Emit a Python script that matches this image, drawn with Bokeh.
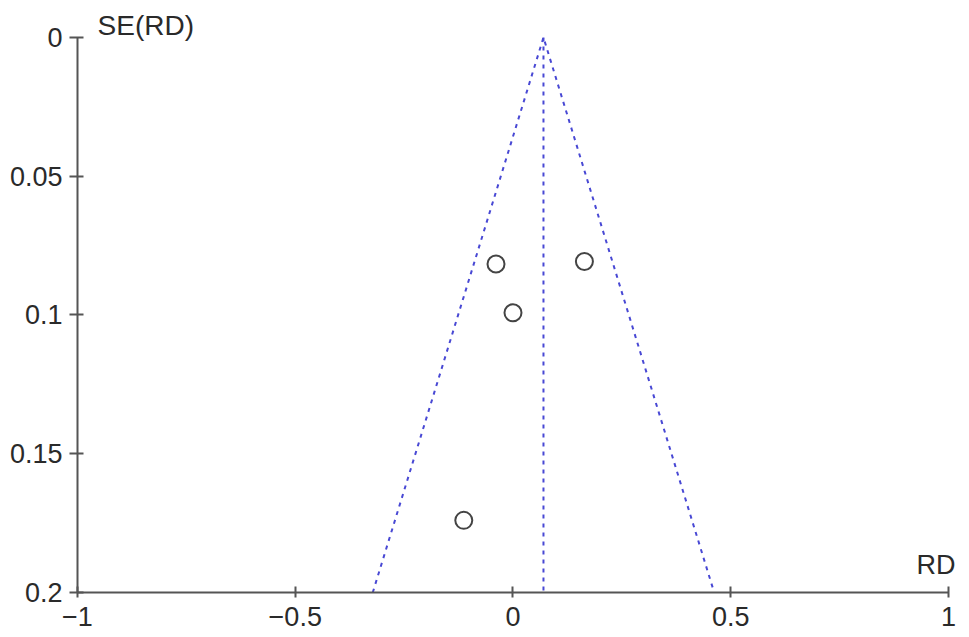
from bokeh.plotting import figure
from bokeh.models import Range1d, FixedTicker, Label, ColumnDataSource
from bokeh.embed import file_html
from bokeh.resources import INLINE

# Study estimates (risk difference) and their standard errors
rd = [-0.039, 0.164, 0.0, -0.113]
se = [0.0816, 0.0807, 0.0992, 0.174]

# Pooled estimate and pseudo 95% confidence funnel
pooled_rd = 0.07
funnel_x = [-0.322, 0.07, 0.462]
funnel_y = [0.2, 0.0, 0.2]
center_x = [0.07, 0.07]
center_y = [0.0, 0.2]

x_ticks = [-1, -0.5, 0, 0.5, 1]
x_tick_labels = ["\u22121", "\u22120.5", "0", "0.5", "1"]
y_ticks = [0, 0.05, 0.1, 0.15, 0.2]
y_tick_labels = ["0", "0.05", "0.1", "0.15", "0.2"]

FONT = "Liberation Sans"
AX = "#555555"
TXT = "#2a2a2a"

p = figure(frame_width=883, frame_height=584, output_backend="svg",
           toolbar_location=None,
           x_range=Range1d(-1, 1.0276), y_range=Range1d(0.2, -0.01045),
           min_border_left=77, min_border_top=8, min_border_right=9,
           min_border_bottom=44)
p.outline_line_color = None
p.xgrid.visible = False
p.ygrid.visible = False
p.background_fill_color = "white"
p.border_fill_color = "white"

for ax in (p.xaxis[0], p.yaxis[0]):
    ax.axis_line_color = AX
    ax.axis_line_width = 2
    ax.major_tick_line_color = AX
    ax.major_tick_line_width = 2
    ax.minor_tick_line_color = None
    ax.major_label_text_font = FONT
    ax.major_label_text_font_size = "27px"
    ax.major_label_text_color = TXT

p.xaxis[0].bounds = (-1, 1)
p.xaxis[0].ticker = FixedTicker(ticks=x_ticks)
p.xaxis[0].major_label_overrides = {t: l for t, l in zip(x_ticks, x_tick_labels)}
p.xaxis[0].major_tick_in = 6
p.xaxis[0].major_tick_out = 5
p.xaxis[0].major_label_standoff = 9

p.yaxis[0].bounds = (0, 0.2)
p.yaxis[0].ticker = FixedTicker(ticks=y_ticks)
p.yaxis[0].major_label_overrides = {t: l for t, l in zip(y_ticks, y_tick_labels)}
p.yaxis[0].major_tick_in = 6
p.yaxis[0].major_tick_out = 8
p.yaxis[0].major_label_standoff = 7

p.line(funnel_x, funnel_y, line_color="#4848d4", line_width=2, line_dash="4 5")
p.line(center_x, center_y, line_color="#4848d4", line_width=2, line_dash="4 5")

src = ColumnDataSource(dict(x=rd, y=se))
p.scatter("x", "y", source=src, size=17, marker="circle", fill_color=None,
          line_color="#444444", line_width=2)

p.add_layout(Label(x=-0.954, y=-0.0043, text="SE(RD)", text_font=FONT,
                   text_font_size="28px", text_color=TXT,
                   text_baseline="middle", text_align="left"))
p.add_layout(Label(x=1.016, y=0.1955, text="RD", text_font=FONT,
                   text_font_size="27px", text_color=TXT,
                   text_baseline="bottom", text_align="right"))

open("out.html", "w").write(file_html(p, INLINE))
